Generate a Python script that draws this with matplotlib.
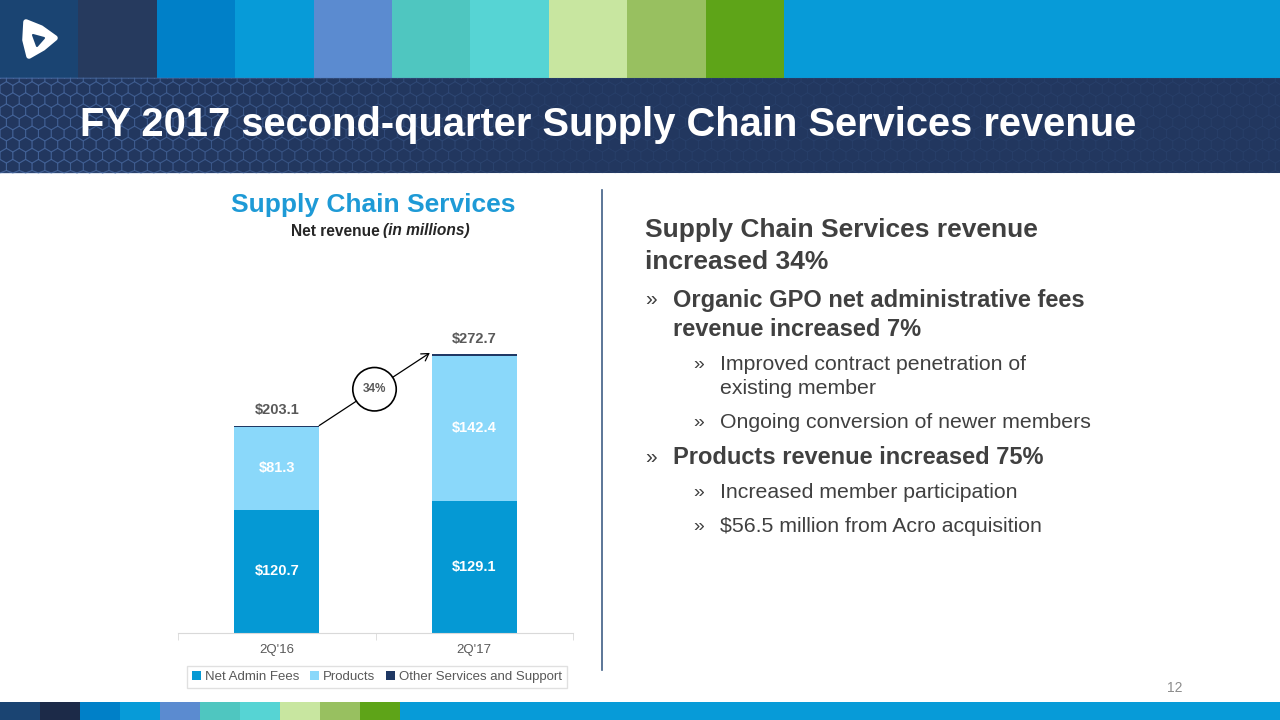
import matplotlib
matplotlib.use('Agg')
import matplotlib.pyplot as plt
import numpy as np
from matplotlib.patches import Rectangle, Polygon
from matplotlib.collections import PolyCollection

plt.rcParams['font.family'] = ['Liberation Sans', 'DejaVu Sans']

# ---------------- data ----------------
categories = ["2Q'16", "2Q'17"]
net_admin_fees = [120.7, 129.1]
products = [81.3, 142.4]
other_services = [1.1, 1.2]
totals = [203.1, 272.7]
series_names = ['Net Admin Fees', 'Products', 'Other Services and Support']
growth_label = '34%'

slide_title = 'FY 2017 second-quarter Supply Chain Services revenue'
chart_title = 'Supply Chain Services'
page_number = '12'

# ---------------- colours ----------------
c_admin = '#0599d4'
c_prod = '#8ad8fa'
c_other = '#1f3864'
txt_dark = '#404040'
txt_gray = '#595959'

top_colors = ['#1a4472', '#263a5e', '#0080c8', '#079bd8', '#5b8bd0',
              '#4fc6c0', '#56d4d4', '#c8e6a0', '#98c060', '#5ea418']
bottom_colors = ['#1a4472', '#1c2a48', '#0080c8', '#079bd8', '#5b8bd0',
                 '#4fc6c0', '#56d4d4', '#c8e6a0', '#98c060', '#5ea418']

fig = plt.figure(figsize=(12.8, 7.2), dpi=100)
fig.patch.set_facecolor('white')

# background / decoration axes in pixel coords
bg = fig.add_axes([0, 0, 1, 1], zorder=0)
bg.set_xlim(0, 1280)
bg.set_ylim(720, 0)
bg.axis('off')

# top colour strip
bw = 78.4
for i, c in enumerate(top_colors):
    bg.add_patch(Rectangle((i * bw, 0), bw, 78, color=c, lw=0))
bg.add_patch(Rectangle((len(top_colors) * bw, 0), 1280, 78, color='#079bd8', lw=0))

# title band
bg.add_patch(Rectangle((0, 78), 1280, 95, color='#22375f', lw=0))
# hexagon (honeycomb) pattern
hexes = []
alphas = []
r = 7.4
hw = np.sqrt(3) * r
vs = 1.5 * r
ang = np.deg2rad(np.arange(30, 390, 60))
for row in range(-1, int(95 / vs) + 2):
    cy = 78 + row * vs
    off = hw / 2 if row % 2 else 0
    for col in range(-1, int(1280 / hw) + 2):
        cx = col * hw + off
        pts = np.column_stack([cx + r * np.cos(ang), cy + r * np.sin(ang)])
        pts[:, 1] = np.clip(pts[:, 1], 78, 173)
        hexes.append(pts)
        alphas.append(max(0.06, 0.42 - cx / 1500))
ec = [(0.33, 0.47, 0.70, a) for a in alphas]
bg.add_collection(PolyCollection(hexes, facecolors='none', edgecolors=ec, linewidths=0.8))

bg.text(80, 125, slide_title, color='white', fontsize=28.7, fontweight='bold',
        ha='left', va='center')

# logo
bg.add_patch(Polygon([(26, 22), (41, 28), (55, 38), (43, 48), (29, 56), (25, 40)],
                     closed=True, fc='white', ec='white', lw=4, joinstyle='round'))
bg.add_patch(Polygon([(33, 35), (44, 38), (37, 46)], closed=True,
                     fc='#1a4472', ec='#1a4472', lw=1.5, joinstyle='round'))

# bottom strip
bw2 = 40
for i, c in enumerate(bottom_colors):
    bg.add_patch(Rectangle((i * bw2, 702), bw2, 18, color=c, lw=0))
bg.add_patch(Rectangle((len(bottom_colors) * bw2, 702), 1280, 18, color='#079bd8', lw=0))

# page number
bg.text(1175, 688, page_number, color='#8c8c8c', fontsize=10, ha='center', va='center')

# divider
bg.plot([602, 602], [190, 670], color='#3f5f85', lw=1.2)

# chart titles
bg.text(373, 205, chart_title, color='#1e9ad6', fontsize=19, fontweight='bold',
        ha='center', va='center')
bg.text(291, 231, 'Net revenue', color='#262626', fontsize=11.2, fontweight='bold',
        ha='left', va='center')
bg.text(383, 231, '(in millions)', color='#262626', fontsize=11.2, fontweight='bold',
        fontstyle='italic', ha='left', va='center')

# right-hand text
lines = [
    (0, 645, 230, 'Supply Chain Services revenue', 19, 'bold'),
    (0, 645, 262, 'increased 34%', 19, 'bold'),
    (1, 673, 300, 'Organic GPO net administrative fees', 17, 'bold'),
    (-1, 673, 329, 'revenue increased 7%', 17, 'bold'),
    (2, 720, 364, 'Improved contract penetration of', 15.3, 'normal'),
    (-1, 720, 389, 'existing member', 15.3, 'normal'),
    (2, 720, 422, 'Ongoing conversion of newer members', 15.3, 'normal'),
    (1, 673, 458, 'Products revenue increased 75%', 17, 'bold'),
    (2, 720, 493, 'Increased member participation', 15.3, 'normal'),
    (2, 720, 527, '$56.5 million from Acro acquisition', 15.3, 'normal'),
]
for lvl, x, y, s, fs, fw in lines:
    bg.text(x, y, s, color=txt_dark, fontsize=fs, fontweight=fw, ha='left', va='center')
    if lvl == 1:
        bg.text(645, y, '»', color=txt_dark, fontsize=15, ha='left', va='center')
    elif lvl == 2:
        bg.text(693, y, '»', color=txt_dark, fontsize=14, ha='left', va='center')

# ---------------- chart ----------------
ax = fig.add_axes([178 / 1280, (720 - 633) / 720, 395 / 1280, (633 - 300) / 720], zorder=2)
ax.patch.set_alpha(0)
x = np.arange(len(categories))
w = 0.43
b1 = ax.bar(x, net_admin_fees, width=w, color=c_admin, label=series_names[0])
bottom2 = np.array(net_admin_fees)
b2 = ax.bar(x, products, width=w, bottom=bottom2, color=c_prod, label=series_names[1])
bottom3 = bottom2 + np.array(products)
b3 = ax.bar(x, other_services, width=w, bottom=bottom3, color=c_other, label=series_names[2])

ax.set_xlim(-0.5, len(categories) - 0.5)
ax.set_ylim(0, 326)
for s in ['left', 'top', 'right']:
    ax.spines[s].set_visible(False)
ax.spines['bottom'].set_color('#d9d9d9')
ax.set_yticks([])
ax.set_xticks(x)
ax.set_xticklabels(categories, fontsize=9.5, color=txt_gray)
ax.tick_params(axis='x', which='major', length=0, pad=8)
ax.set_xticks(np.arange(-0.5, len(categories)), minor=True)
ax.tick_params(axis='x', which='minor', length=5, color='#d9d9d9')

for i in range(len(categories)):
    ax.text(x[i], net_admin_fees[i] / 2, f'${net_admin_fees[i]:.1f}', color='white',
            fontsize=10.5, fontweight='bold', ha='center', va='center')
    ax.text(x[i], net_admin_fees[i] + products[i] / 2, f'${products[i]:.1f}', color='white',
            fontsize=10.5, fontweight='bold', ha='center', va='center')
    ax.annotate(f'${totals[i]:.1f}', (x[i], totals[i]), xytext=(0, 6),
                textcoords='offset points', ha='center', va='bottom',
                color=txt_gray, fontsize=10.5, fontweight='bold')

# growth arrow
x0, y0 = x[0] + w / 2, totals[0]
x1, y1 = x[1] - w / 2 - 0.01, totals[1] + 1.5
ax.annotate('', xy=(x1, y1), xytext=(x0, y0),
            arrowprops=dict(arrowstyle='->,head_length=0.5,head_width=0.3', color='black',
                            lw=0.9, shrinkA=0, shrinkB=0))
ax.text((x0 + x1) / 2, (y0 + y1) / 2, growth_label, ha='center', va='center',
        fontsize=8.5, fontweight='bold', color=txt_gray,
        bbox=dict(boxstyle='circle,pad=0.85', fc='white', ec='black', lw=1.2))

# legend
leg = fig.legend(handles=[b1, b2, b3], labels=series_names, loc='center',
                 bbox_to_anchor=(377 / 1280, 1 - 677 / 720), ncol=3, frameon=True,
                 fancybox=False, fontsize=9.5, handlelength=0.7, handleheight=0.7,
                 handletextpad=0.3, columnspacing=0.8, borderpad=0.35)
leg.get_frame().set_edgecolor('#d9d9d9')
leg.get_frame().set_linewidth(1)
for t in leg.get_texts():
    t.set_color(txt_gray)

fig.savefig('out.png', dpi=100)
